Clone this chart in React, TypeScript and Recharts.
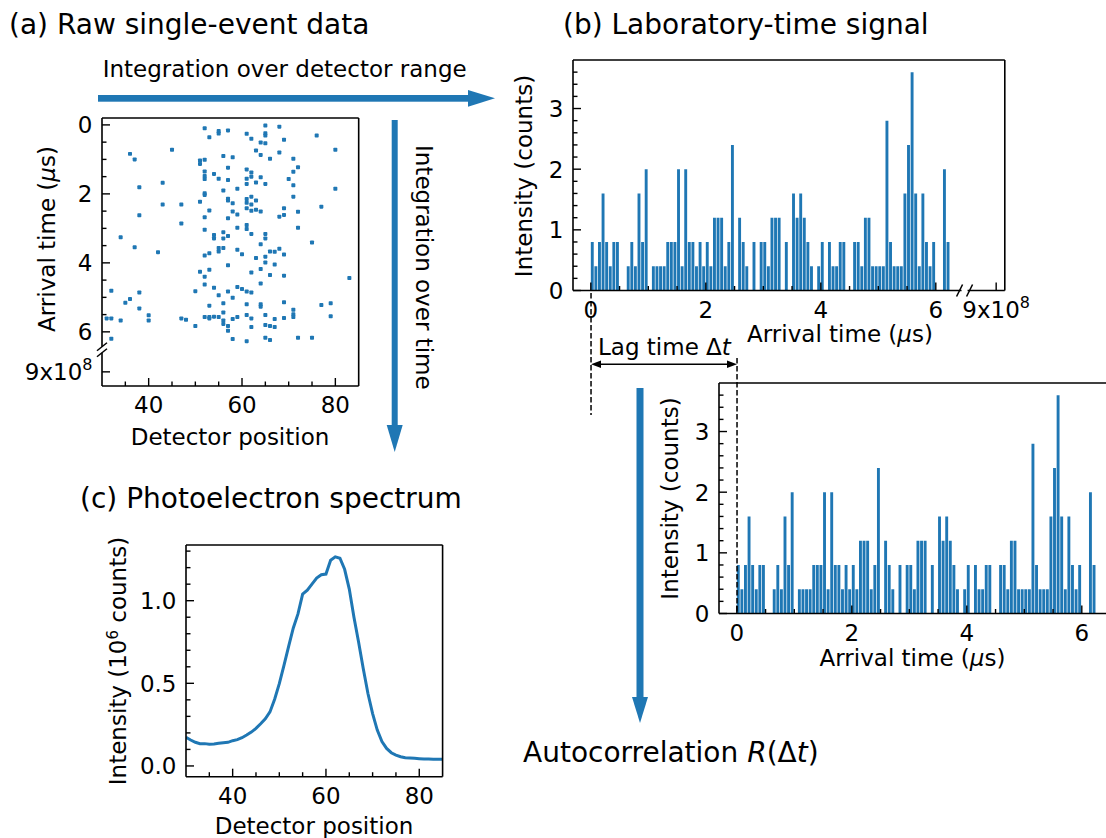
import React from "react";
import { Bar, ComposedChart, Line, Scatter, XAxis, YAxis } from "recharts";

const BLUE = "#1f77b4";
const TICK_FS = 23;
const LABEL_FS = 23;
const TITLE_FS = 28;
const AXIS_LINE = { stroke: "#000", strokeWidth: 1.6 };

// (a) single events: [detector position, arrival time (µs)]
const EVENTS: [number, number][] = [
  [52, 0.1], [53, 0.36], [55, 0.18], [55, 0.25], [57, 0.16], [61, 0.26], [62, 0.4],
  [65, 0.02], [65, 0.24], [65, 0.31], [64, 0.51], [65, 0.53], [68, 0.05], [69, 0.43],
  [76, 0.31], [45, 0.72], [36, 0.84], [37, 1.0], [56, 0.9], [58, 0.94], [63, 0.74],
  [64, 0.87], [66, 0.98], [68, 0.8], [71, 0.98], [80, 0.72], [51, 1.03], [51, 1.13],
  [52, 1.01], [57, 1.24], [61, 1.29], [72, 1.23], [71, 1.36], [52, 1.35], [52, 1.48],
  [52, 1.57], [54, 1.42], [55, 1.56], [57, 1.6], [62, 1.38], [62, 1.5], [61, 1.56],
  [61, 1.71], [63, 1.67], [64, 1.52], [65, 1.71], [70, 1.57], [71, 1.75], [43, 1.68],
  [38, 1.81], [59, 1.85], [56, 1.9], [52, 1.98], [52, 2.03], [80, 1.85], [51, 2.23],
  [57, 2.14], [57, 2.19], [58, 2.27], [61, 2.15], [61, 2.26], [61, 2.42], [62, 2.08],
  [62, 2.31], [62, 2.49], [63, 2.19], [63, 2.46], [64, 2.51], [53, 2.48], [58, 2.51],
  [59, 2.6], [52, 2.68], [57, 2.71], [68, 2.66], [69, 2.61], [69, 2.42], [71, 2.08],
  [72, 2.52], [77, 2.37], [43, 2.31], [47, 2.31], [38, 2.62], [47, 2.86], [59, 2.98],
  [52, 3.04], [61, 2.9], [61, 3.02], [62, 3.16], [72, 2.98], [56, 3.11], [56, 3.29],
  [54, 3.19], [54, 3.29], [57, 3.22], [65, 3.16], [65, 3.29], [34, 3.26], [75, 3.41],
  [64, 3.46], [37, 3.55], [55, 3.57], [55, 3.67], [56, 3.57], [52, 3.79], [53, 3.72],
  [59, 3.62], [60, 3.75], [63, 3.86], [65, 3.82], [65, 3.99], [66, 3.67], [67, 3.68],
  [68, 3.59], [69, 3.76], [42, 3.69], [57, 4.07], [67, 4.05], [64, 4.18], [51, 4.26],
  [52, 4.4], [53, 4.2], [62, 4.28], [66, 4.35], [69, 4.37], [83, 4.44], [64, 4.6],
  [52, 4.63], [54, 4.72], [59, 4.7], [60, 4.76], [61, 4.83], [62, 4.86], [50, 4.82],
  [57, 4.83], [32, 4.81], [38, 4.86], [55, 4.94], [58, 5.01], [36, 5.05], [35, 5.16],
  [56, 5.17], [53, 5.24], [61, 5.2], [64, 5.2], [64, 5.27], [69, 5.14], [77, 5.22],
  [79, 5.17], [38, 5.32], [71, 5.36], [71, 5.49], [71, 5.57], [56, 5.44], [56, 5.67],
  [56, 5.77], [61, 5.51], [65, 5.51], [79, 5.55], [52, 5.57], [53, 5.57], [54, 5.56],
  [55, 5.57], [53, 5.61], [40, 5.52], [40, 5.67], [47, 5.61], [48, 5.65], [62, 5.61],
  [58, 5.63], [59, 5.57], [67, 5.63], [69, 5.6], [31, 5.61], [32, 5.61], [34, 5.67],
  [50, 5.83], [57, 5.83], [57, 5.97], [62, 5.86], [65, 5.8], [66, 5.83], [67, 5.86],
  [58, 6.21], [61, 6.27], [65, 6.17], [66, 6.24], [72, 6.17], [75, 6.17], [32, 6.2],
];

// (b)/(d) arrival-time histogram
const BIN_WIDTH = 0.0625;
const COUNTS = [
  0.8, 0.4, 0.8, 1.6, 0.8, 0.4, 0.8, 0.8, 0, 0,
  0.4, 0.8, 0.4, 1.6, 0.8, 2.0, 0, 0.4, 0.4, 0.4,
  0.4, 0.8, 0.8, 0.8, 2.0, 0.4, 2.0, 0.8, 0.8, 0.4,
  0.8, 0.4, 0.8, 0.4, 1.2, 1.2, 1.2, 0.4, 0.8, 2.4,
  0, 1.2, 0.8, 0.4, 0, 0.8, 0, 0.8, 0.8, 0.4,
  1.2, 1.2, 1.2, 0, 0.8, 0, 1.6, 1.2, 1.6, 1.2,
  0.8, 0.4, 0, 0.4, 0.8, 0, 0.8, 0.4, 0.4, 0.8,
  0.8, 0, 0, 0.8, 0.8, 0.4, 1.2, 1.2, 0.4, 0.4,
  0.4, 0.4, 2.8, 0.8, 0.4, 0.4, 0.4, 1.6, 2.4, 3.6,
  1.6, 0.4, 1.6, 0.8, 0.4, 0.8, 0, 0, 2.0, 0.8,
];

// (c) integrated spectrum (10^6 counts)
const SPEC_POS = [
  30, 31, 32, 33, 34, 35, 36, 37, 38, 39, 40, 41, 42, 43, 44, 45, 46, 47, 48, 49,
  50, 51, 52, 53, 54, 55, 56, 57, 58, 59, 60, 61, 62, 63, 64, 65, 66, 67, 68, 69,
  70, 71, 72, 73, 74, 75, 76, 77, 78, 79, 80, 81, 82, 83, 84, 85,
];
const SPEC_INT = [
  0.173, 0.157, 0.143, 0.135, 0.135, 0.131, 0.133, 0.137, 0.141, 0.143,
  0.153, 0.159, 0.171, 0.187, 0.205, 0.227, 0.255, 0.285, 0.327, 0.404,
  0.498, 0.608, 0.723, 0.835, 0.92, 1.04, 1.064, 1.1, 1.137, 1.157,
  1.161, 1.245, 1.265, 1.257, 1.19, 1.07, 0.9, 0.749, 0.588, 0.438,
  0.317, 0.217, 0.147, 0.106, 0.08, 0.066, 0.056, 0.05, 0.048, 0.046,
  0.044, 0.042, 0.042, 0.04, 0.04, 0.04,
];

// ticks
const POS_MAJOR = [40, 60, 80];
const POS_MINOR = [35, 45, 50, 55, 65, 70, 75];
const TIME_MAJOR = [0, 2, 4, 6];
const TIME_MINOR = [0.5, 1, 1.5, 2.5, 3, 3.5, 4.5, 5, 5.5];
const COUNT_MAJOR = [0, 1, 2, 3];
const COUNT_MINOR = [0.2, 0.4, 0.6, 0.8, 1.2, 1.4, 1.6, 1.8, 2.2, 2.4, 2.6, 2.8, 3.2, 3.4, 3.6];
const SPEC_MAJOR = [0, 0.5, 1.0];
const SPEC_MINOR = [0.1, 0.2, 0.3, 0.4, 0.6, 0.7, 0.8, 0.9, 1.1, 1.2, 1.3];

// broken time axes: break mark and the far "9x10^8" tick
const A_BREAK = 6.52;
const A_FAR = 7.16;
const B_BREAK = 6.5;
const B_FAR = 7.05;

const POS_DOMAIN: [number, number] = [30, 85];
const A_TIME_DOMAIN: [number, number] = [-0.2, 7.57];
const TIME_DOMAIN: [number, number] = [-0.31, 7.2];
const COUNT_DOMAIN: [number, number] = [0, 3.8];
const SPEC_DOMAIN: [number, number] = [-0.065, 1.337];

// plot rectangles on the page
type Geom = { pl: number; pt: number; pw: number; ph: number };
const GA: Geom = { pl: 101.5, pt: 118, pw: 256.7, ph: 268 };
const GB: Geom = { pl: 573.2, pt: 59.5, pw: 431.8, ph: 230.5 };
const GC: Geom = { pl: 185.7, pt: 545, pw: 256.6, ph: 231.7 };
const GD: Geom = { pl: 719.2, pt: 382.8, pw: 431.8, ph: 230.5 };

const YW = 80;
const XH = 40;
const TP = 16;
const RP = 40;

function box(g: Geom) {
  return {
    style: { position: "absolute", left: g.pl - YW, top: g.pt - TP } as React.CSSProperties,
    width: YW + g.pw + RP,
    height: TP + g.ph + XH,
    margin: { top: TP, right: RP, bottom: 0, left: 0 },
  };
}

const near = (a: number, b: number) => Math.abs(a - b) < 1e-6;

const farLabel = (
  <>
    <tspan>9x10</tspan>
    <tspan dy={-10} fontSize={16}>8</tspan>
  </>
);

type Side = "bottom" | "left";

function BreakMark({ side, x, y }: { side: Side; x: number; y: number }) {
  if (side === "bottom") {
    return (
      <g>
        <rect x={x - 3} y={y - 2.5} width={6} height={5} fill="#fff" />
        <line x1={x - 8} y1={y + 6} x2={x - 2} y2={y - 6} stroke="#000" strokeWidth={1.5} />
        <line x1={x + 2} y1={y + 6} x2={x + 8} y2={y - 6} stroke="#000" strokeWidth={1.5} />
      </g>
    );
  }
  return (
    <g>
      <rect x={x - 2.5} y={y - 3} width={5} height={6} fill="#fff" />
      <line x1={x - 5} y1={y + 1} x2={x + 5} y2={y - 7} stroke="#000" strokeWidth={1.5} />
      <line x1={x - 5} y1={y + 7} x2={x + 5} y2={y - 1} stroke="#000" strokeWidth={1.5} />
    </g>
  );
}

function makeTick(side: Side, major: number[], brk: number | null, fmt: (v: number) => React.ReactNode) {
  return (props: any) => {
    const { x, y, payload } = props;
    const v = Number(payload.value);
    if (brk !== null && near(v, brk)) return <BreakMark side={side} x={x} y={y} />;
    const isMajor = major.some((m) => near(m, v));
    const len = isMajor ? 8 : 4.5;
    if (side === "bottom") {
      return (
        <g>
          <line x1={x} x2={x} y1={y} y2={y - len} stroke="#000" strokeWidth={1.4} />
          {isMajor && (
            <text x={x} y={y + 27.5} textAnchor="middle" fontSize={TICK_FS} fill="#000">
              {fmt(v)}
            </text>
          )}
        </g>
      );
    }
    return (
      <g>
        <line x1={x} x2={x + len} y1={y} y2={y} stroke="#000" strokeWidth={1.4} />
        {isMajor && (
          <text x={x - 9.5} y={y + 8.4} textAnchor="end" fontSize={TICK_FS} fill="#000">
            {fmt(v)}
          </text>
        )}
      </g>
    );
  };
}

function frameAxes(xd: [number, number], yd: [number, number], reversed = false) {
  return [
    <XAxis key="ft" xAxisId="top" orientation="top" mirror type="number" domain={xd}
      allowDataOverflow tick={false} tickLine={false} axisLine={AXIS_LINE} />,
    <YAxis key="fr" yAxisId="right" orientation="right" mirror type="number" domain={yd}
      reversed={reversed} allowDataOverflow tick={false} tickLine={false} axisLine={AXIS_LINE} />,
  ];
}

function ScatterPanel() {
  const data = EVENTS.map(([x, y]) => ({ x, y }));
  const b = box(GA);
  const timeFmt = (v: number) => (near(v, A_FAR) ? farLabel : String(v));
  return (
    <div style={b.style}>
      <ComposedChart width={b.width} height={b.height} margin={b.margin}>
        <XAxis dataKey="x" type="number" domain={POS_DOMAIN} allowDataOverflow
          ticks={[...POS_MAJOR, ...POS_MINOR]} interval={0} tickSize={0} tickMargin={0}
          height={XH} axisLine={AXIS_LINE} tickLine={false}
          tick={makeTick("bottom", POS_MAJOR, null, String)} />
        <YAxis dataKey="y" type="number" reversed domain={A_TIME_DOMAIN} allowDataOverflow
          ticks={[...TIME_MAJOR, ...TIME_MINOR, A_BREAK, A_FAR]} interval={0} tickSize={0}
          tickMargin={0} width={YW} axisLine={AXIS_LINE} tickLine={false}
          tick={makeTick("left", [...TIME_MAJOR, A_FAR], A_BREAK, timeFmt)} />
        {frameAxes(POS_DOMAIN, A_TIME_DOMAIN, true)}
        <Scatter data={data} fill={BLUE} isAnimationActive={false}
          shape={(p: any) => <rect x={p.cx - 2} y={p.cy - 2} width={4} height={4} rx={0.8} fill={BLUE} />} />
      </ComposedChart>
    </div>
  );
}

function HistPanel({ g, showBreak }: { g: Geom; showBreak: boolean }) {
  const data = COUNTS.map((c, i) => ({ t: (i + 0.5) * BIN_WIDTH, c }));
  const b = box(g);
  const ticks = showBreak ? [...TIME_MAJOR, ...TIME_MINOR, B_BREAK, B_FAR] : [...TIME_MAJOR, ...TIME_MINOR];
  const major = showBreak ? [...TIME_MAJOR, B_FAR] : TIME_MAJOR;
  const fmt = (v: number) => (near(v, B_FAR) ? farLabel : String(v));
  return (
    <div style={b.style}>
      <ComposedChart width={b.width} height={b.height} margin={b.margin} data={data}>
        <XAxis dataKey="t" type="number" domain={TIME_DOMAIN} allowDataOverflow
          ticks={ticks} interval={0} tickSize={0} tickMargin={0} height={XH}
          axisLine={AXIS_LINE} tickLine={false}
          tick={makeTick("bottom", major, showBreak ? B_BREAK : null, fmt)} />
        <YAxis type="number" domain={COUNT_DOMAIN} allowDataOverflow
          ticks={[...COUNT_MAJOR, ...COUNT_MINOR]} interval={0} tickSize={0} tickMargin={0}
          width={YW} axisLine={AXIS_LINE} tickLine={false}
          tick={makeTick("left", COUNT_MAJOR, null, String)} />
        {frameAxes(TIME_DOMAIN, COUNT_DOMAIN)}
        <Bar dataKey="c" fill={BLUE} barSize={2.9} isAnimationActive={false} />
      </ComposedChart>
    </div>
  );
}

function SpectrumPanel() {
  const data = SPEC_POS.map((x, i) => ({ x, y: SPEC_INT[i] }));
  const b = box(GC);
  return (
    <div style={b.style}>
      <ComposedChart width={b.width} height={b.height} margin={b.margin} data={data}>
        <XAxis dataKey="x" type="number" domain={POS_DOMAIN} allowDataOverflow
          ticks={[...POS_MAJOR, ...POS_MINOR]} interval={0} tickSize={0} tickMargin={0}
          height={XH} axisLine={AXIS_LINE} tickLine={false}
          tick={makeTick("bottom", POS_MAJOR, null, String)} />
        <YAxis type="number" domain={SPEC_DOMAIN} allowDataOverflow
          ticks={[...SPEC_MAJOR, ...SPEC_MINOR]} interval={0} tickSize={0} tickMargin={0}
          width={YW} axisLine={AXIS_LINE} tickLine={false}
          tick={makeTick("left", SPEC_MAJOR, null, (v) => v.toFixed(1))} />
        {frameAxes(POS_DOMAIN, SPEC_DOMAIN)}
        <Line dataKey="y" type="linear" stroke={BLUE} strokeWidth={3} dot={false}
          isAnimationActive={false} />
      </ComposedChart>
    </div>
  );
}

// x pixel of t = 0 on the two time axes
const xOfZero = (g: Geom) => g.pl + ((0 - TIME_DOMAIN[0]) * g.pw) / (TIME_DOMAIN[1] - TIME_DOMAIN[0]);

function Overlay() {
  const bx0 = xOfZero(GB);
  const dx0 = xOfZero(GD);
  const lagY = 364.3;
  const dash = "5.5 2.5";
  const mu = <tspan fontStyle="italic">μ</tspan>;
  return (
    <svg width={1106} height={838} style={{ position: "absolute", left: 0, top: 0, pointerEvents: "none" }}>
      <g fill="#000">
        <text x={9} y={34} fontSize={TITLE_FS}>(a) Raw single-event data</text>
        <text x={563} y={34} fontSize={TITLE_FS}>(b) Laboratory-time signal</text>
        <text x={80} y={508} fontSize={TITLE_FS}>(c) Photoelectron spectrum</text>
        <text x={523} y={762} fontSize={TITLE_FS}>
          Autocorrelation <tspan fontStyle="italic">R</tspan>(Δ<tspan fontStyle="italic">t</tspan>)
        </text>

        <text x={230} y={445} textAnchor="middle" fontSize={LABEL_FS}>Detector position</text>
        <text transform="translate(55,239) rotate(-90)" textAnchor="middle" fontSize={LABEL_FS}>
          Arrival time ({mu}s)
        </text>
        <text x={840} y={342} textAnchor="middle" fontSize={LABEL_FS}>Arrival time ({mu}s)</text>
        <text transform="translate(532,176) rotate(-90)" textAnchor="middle" fontSize={LABEL_FS}>
          Intensity (counts)
        </text>
        <text x={912.5} y={666} textAnchor="middle" fontSize={LABEL_FS}>Arrival time ({mu}s)</text>
        <text transform="translate(678,498.5) rotate(-90)" textAnchor="middle" fontSize={LABEL_FS}>
          Intensity (counts)
        </text>
        <text x={314} y={834} textAnchor="middle" fontSize={LABEL_FS}>Detector position</text>
        <text transform="translate(126,661) rotate(-90)" textAnchor="middle" fontSize={LABEL_FS}>
          Intensity (10<tspan dy={-8} fontSize={15}>6</tspan>
          <tspan dy={8} fontSize={LABEL_FS}> counts)</tspan>
        </text>

        <text x={102.7} y={76.7} fontSize={LABEL_FS}>Integration over detector range</text>
        <text transform="translate(415.5,145) rotate(90)" fontSize={LABEL_FS}>Integration over time</text>
        <text x={598} y={355} fontSize={LABEL_FS}>
          Lag time Δ<tspan fontStyle="italic">t</tspan>
        </text>
      </g>

      {/* blue flow arrows */}
      <rect x={98} y={95} width={372} height={6.7} fill={BLUE} />
      <polygon points="468,90 495,98.3 468,106.7" fill={BLUE} />
      <rect x={391.7} y={120} width={6} height={307} fill={BLUE} />
      <polygon points="386.7,425 394.7,452 402.7,425" fill={BLUE} />
      <rect x={636.5} y={388} width={7} height={311} fill={BLUE} />
      <polygon points="632,697 640,723 648,697" fill={BLUE} />

      {/* lag time marker */}
      <line x1={bx0} x2={bx0} y1={293} y2={415} stroke="#000" strokeWidth={1.5} strokeDasharray={dash} />
      <line x1={dx0} x2={dx0} y1={358} y2={GD.pt + GD.ph} stroke="#000" strokeWidth={1.5} strokeDasharray={dash} />
      <line x1={bx0 + 4} x2={dx0 - 4} y1={lagY} y2={lagY} stroke="#000" strokeWidth={1.5} />
      <polygon points={`${bx0},${lagY} ${bx0 + 10},${lagY - 3.8} ${bx0 + 10},${lagY + 3.8}`} fill="#000" />
      <polygon points={`${dx0},${lagY} ${dx0 - 10},${lagY - 3.8} ${dx0 - 10},${lagY + 3.8}`} fill="#000" />
    </svg>
  );
}

export default function App() {
  return (
    <div
      style={{
        position: "absolute",
        left: 0,
        top: 0,
        width: 1106,
        height: 838,
        overflow: "hidden",
        background: "#fff",
        fontFamily: "'DejaVu Sans', sans-serif",
      }}
    >
      <ScatterPanel />
      <HistPanel g={GB} showBreak />
      <HistPanel g={GD} showBreak={false} />
      <SpectrumPanel />
      <Overlay />
    </div>
  );
}
